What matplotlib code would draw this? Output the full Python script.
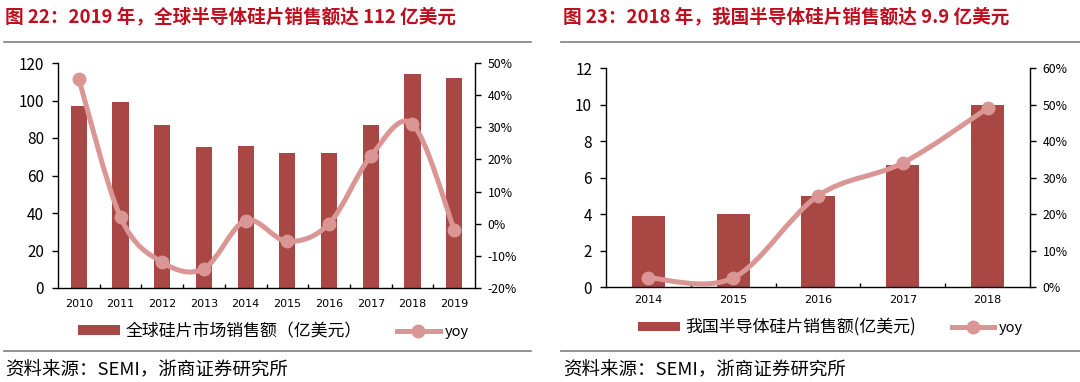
import matplotlib
matplotlib.use("Agg")
import matplotlib.pyplot as plt
from matplotlib.path import Path
from matplotlib.patches import PathPatch, Patch
from matplotlib.lines import Line2D
from matplotlib.ticker import FuncFormatter, MultipleLocator

plt.rcParams['font.family'] = ['Noto Sans CJK SC', 'DejaVu Sans']
plt.rcParams['axes.unicode_minus'] = True

# left chart data
years_a = ['2010', '2011', '2012', '2013', '2014', '2015', '2016', '2017', '2018', '2019']
sales_a = [97, 99, 87, 75, 76, 72, 72, 87, 114, 112]
yoy_a = [45.0, 2.0, -12.0, -14.0, 1.0, -5.5, 0.0, 21.0, 31.0, -1.8]

# right chart data
years_b = ['2014', '2015', '2016', '2017', '2018']
sales_b = [3.9, 4.0, 5.0, 6.7, 10.0]
yoy_b = [2.5, 2.5, 25.0, 34.0, 49.0]

title_a = '图 22：2019 年，全球半导体硅片销售额达 112 亿美元'
title_b = '图 23：2018 年，我国半导体硅片销售额达 9.9 亿美元'
legend_a = '全球硅片市场销售额（亿美元）'
legend_b = '我国半导体硅片销售额(亿美元)'
source = '资料来源：SEMI，浙商证券研究所'

BAR = '#A94745'
LINE = '#D99694'
RED = '#BE0F1E'
GRAY = '#808080'

W, H = 1080, 382
fig = plt.figure(figsize=(W / 100, H / 100), dpi=100)


def box(x0, y0, x1, y1):
    return [x0 / W, 1 - y1 / H, (x1 - x0) / W, (y1 - y0) / H]


def smooth(xs, ys, t=1 / 6):
    # Catmull-Rom style bezier through the data points
    n = len(xs)
    verts = [(xs[0], ys[0])]
    codes = [Path.MOVETO]
    for i in range(n - 1):
        p0 = (xs[max(i - 1, 0)], ys[max(i - 1, 0)])
        p1 = (xs[i], ys[i])
        p2 = (xs[i + 1], ys[i + 1])
        p3 = (xs[min(i + 2, n - 1)], ys[min(i + 2, n - 1)])
        c1 = (p1[0] + (p2[0] - p0[0]) * t, p1[1] + (p2[1] - p0[1]) * t)
        c2 = (p2[0] - (p3[0] - p1[0]) * t, p2[1] - (p3[1] - p1[1]) * t)
        verts += [c1, c2, p2]
        codes += [Path.CURVE4] * 3
    return Path(verts, codes)


def panel(rect, cats, sales, yoy, ymax, ystep, pmin, pmax, pstep, xpad):
    ax = fig.add_axes(rect)
    x = list(range(len(cats)))
    ax.bar(x, sales, width=0.39, color=BAR, zorder=2)
    ax.set_xlim(-0.5, len(cats) - 0.5)
    ax.set_ylim(0, ymax)
    ax.yaxis.set_major_locator(MultipleLocator(ystep))
    ax.set_xticks(x)
    ax.set_xticklabels(cats, fontsize=8, family='DejaVu Sans')
    ax.set_xticks([i + 0.5 for i in x[:-1]], minor=True)
    ax.tick_params(axis='x', which='major', length=0, pad=xpad)
    ax.tick_params(axis='x', which='minor', direction='in', length=3, width=1)
    ax.tick_params(axis='y', length=4, width=1, labelsize=11, pad=6)
    for s in ['top', 'right']:
        ax.spines[s].set_visible(False)
    for s in ['left', 'bottom']:
        ax.spines[s].set_linewidth(1)

    ax2 = ax.twinx()
    ax2.set_ylim(pmin, pmax)
    ax2.yaxis.set_major_locator(MultipleLocator(pstep))
    ax2.yaxis.set_major_formatter(FuncFormatter(lambda v, p: '%d%%' % round(v)))
    ax2.tick_params(axis='y', length=4, width=1, labelsize=8.8, pad=5)
    for s in ['top', 'left', 'bottom']:
        ax2.spines[s].set_visible(False)
    ax2.spines['right'].set_linewidth(1)
    ax2.add_patch(PathPatch(smooth(x, yoy), fill=False, edgecolor=LINE,
                            lw=3.6, capstyle='round', zorder=3))
    ax2.plot(x, yoy, 'o', color=LINE, ms=9, zorder=4)
    return ax, ax2


panel(box(58, 63, 475, 288), years_a, sales_a, yoy_a, 120, 20, -20, 50, 10, 8)
panel(box(606, 68, 1030, 287), years_b, sales_b, yoy_b, 12, 2, 0, 60, 10, 6)

# titles and rules
fig.text(5 / W, 1 - 17 / H, title_a, color=RED, fontsize=13.4, fontweight='bold',
         va='center', ha='left')
fig.text(563 / W, 1 - 17 / H, title_b, color=RED, fontsize=13.4, fontweight='bold',
         va='center', ha='left')
for (x0, x1) in [(4, 531), (561, 1080)]:
    fig.add_artist(Line2D([x0 / W, x1 / W], [1 - 41.5 / H, 1 - 41.5 / H], color=GRAY, lw=1.2))
    fig.add_artist(Line2D([x0 / W, x1 / W], [1 - 351 / H, 1 - 351 / H], color=GRAY, lw=1.2))

fig.text(5 / W, 1 - 370 / H, source, fontsize=13.3, va='center', ha='left')
fig.text(563 / W, 1 - 370 / H, source, fontsize=13.3, va='center', ha='left')

# legends
for lx, ly, label in [(78, 331, legend_a), (638, 327, legend_b)]:
    handles = [Patch(facecolor=BAR, edgecolor='none'),
               Line2D([], [], color=LINE, lw=3.6, marker='o', ms=9)]
    leg = fig.legend(handles, [label, 'yoy'], loc='center left',
                     bbox_to_anchor=(lx / W, 1 - ly / H), ncol=2, frameon=False,
                     fontsize=12.2, handlelength=2.5, handleheight=0.45,
                     handletextpad=0.3, columnspacing=2.1, borderpad=0,
                     borderaxespad=0)
    leg.get_texts()[1].set_fontsize(10.5)

fig.savefig('out.png', dpi=100)
